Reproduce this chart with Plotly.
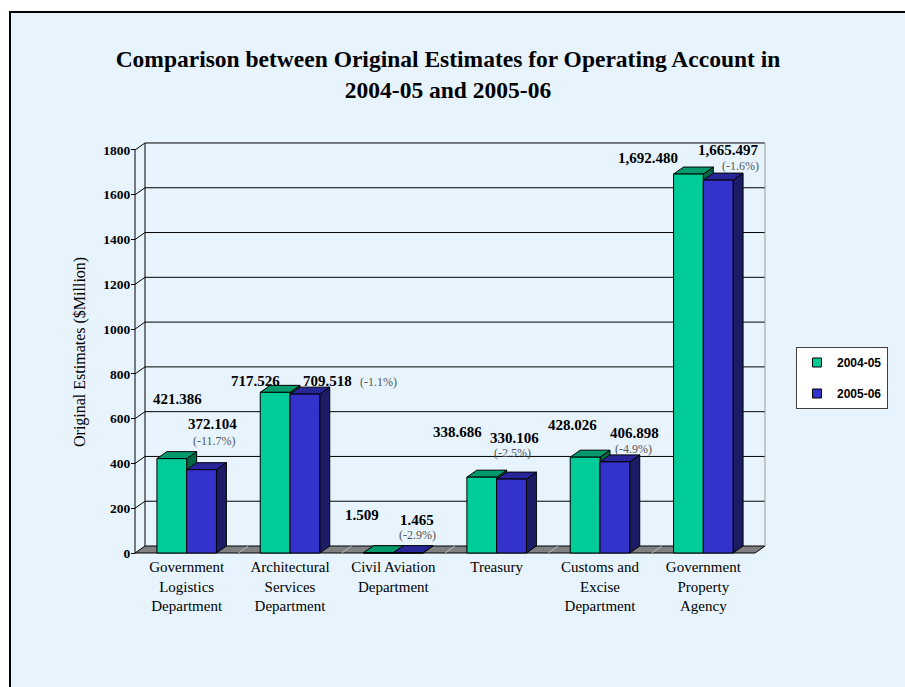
import plotly.graph_objects as go

# ---------------- data ----------------
categories = [
    "Government<br>Logistics<br>Department",
    "Architectural<br>Services<br>Department",
    "Civil Aviation<br>Department",
    "Treasury",
    "Customs and<br>Excise<br>Department",
    "Government<br>Property<br>Agency",
]
series_names = ["2004-05", "2005-06"]
est_2004 = [421.386, 717.526, 1.509, 338.686, 428.026, 1692.480]
est_2005 = [372.104, 709.518, 1.465, 330.106, 406.898, 1665.497]
y_ticks = [0, 200, 400, 600, 800, 1000, 1200, 1400, 1600, 1800]

# ---------------- label placement (pixel offsets) ----------------
lab04_dx = [-9, -35, -31, -39, -27, -55]
lab04_dy = [60, 11, 38, 45, 32, 16]
lab05_dx = [26, 37, 24, 18, 35, 25]
lab05_dy = [46, 13, 33, 41, 29, 30]
pct_dx = [28, 88, 24, 16, 34, 37]
pct_dy = [29, 12, 18, 26, 13, 14]

# ---------------- geometry / style ----------------
W, H = 905, 687
UX = 103.33          # px per category unit
UY = 0.2239          # px per $M
FRONT_LEFT_PX = 135  # pixel x of x=-0.5
ZERO_PX = 553        # pixel y of y=0
PL, PR, PT, PB = 132, 769, 140, 556
BW = 0.288
DX = 10 / UX
DY = 7 / UY
NCAT = len(categories)
YMAX = y_ticks[-1]

x_range = [-0.5 - (FRONT_LEFT_PX - PL) / UX, -0.5 + (PR - FRONT_LEFT_PX) / UX]
y_range = [-(PB - ZERO_PX) / UY, (ZERO_PX - PT) / UY]

BG = "#E8F4FD"
SERIF = "Liberation Serif"
colors = {
    "2004-05": {"front": "#00CC99", "top": "#00996B", "side": "#006644"},
    "2005-06": {"front": "#3333CC", "top": "#262699", "side": "#1C1C66"},
}


def poly_trace(polys, fill):
    xs, ys = [], []
    for p in polys:
        for (a, b) in p:
            xs.append(a)
            ys.append(b)
        xs.append(p[0][0])
        ys.append(p[0][1])
        xs.append(None)
        ys.append(None)
    return go.Scatter(x=xs, y=ys, mode="lines", fill="toself", fillcolor=fill,
                      line=dict(color="black", width=1), showlegend=False,
                      hoverinfo="skip")


fig = go.Figure()

for s_idx, (name, vals) in enumerate(zip(series_names, [est_2004, est_2005])):
    fronts, tops, sides = [], [], []
    for i, v in enumerate(vals):
        x0 = i - BW if s_idx == 0 else i
        x1 = x0 + BW
        fronts.append([(x0, 0), (x1, 0), (x1, v), (x0, v)])
        tops.append([(x0, v), (x1, v), (x1 + DX, v + DY), (x0 + DX, v + DY)])
        sides.append([(x1, 0), (x1 + DX, DY), (x1 + DX, v + DY), (x1, v)])
    c = colors[name]
    fig.add_trace(poly_trace(sides, c["side"]))
    fig.add_trace(poly_trace(tops, c["top"]))
    fig.add_trace(poly_trace(fronts, c["front"]))

# legend entries
for name in series_names:
    fig.add_trace(go.Scatter(x=[None], y=[None], mode="markers", name=name,
                             legendgroup=name,
                             marker=dict(symbol="square", size=9,
                                         color=colors[name]["front"],
                                         line=dict(color="black", width=1))))

# ---------------- shapes (walls, floor, grid) ----------------
shapes = []
shapes.append(dict(type="rect", xref="paper", yref="paper",
                   x0=(10 - PL) / (PR - PL), x1=(930 - PL) / (PR - PL),
                   y0=(PB - 720) / (PB - PT), y1=(PB - 12) / (PB - PT),
                   fillcolor=BG, line=dict(color="black", width=2), layer="below"))
xl, xr = -0.5, NCAT - 0.5
shapes.append(dict(type="path", xref="x", yref="y",
                   path=f"M {xl},0 L {xr},0 L {xr+DX},{DY} L {xl+DX},{DY} Z",
                   fillcolor="#808080", line=dict(color="black", width=1), layer="below"))
for k in range(1, NCAT):
    b = xl + k
    shapes.append(dict(type="line", xref="x", yref="y", x0=b, y0=0, x1=b + DX, y1=DY,
                       line=dict(color="#BDBDBD", width=1), layer="below"))
for v in y_ticks[1:]:
    shapes.append(dict(type="line", xref="x", yref="y", x0=xl + DX, y0=v + DY,
                       x1=xr + DX, y1=v + DY, line=dict(color="black", width=1), layer="below"))
for v in y_ticks[1:]:
    shapes.append(dict(type="line", xref="x", yref="y", x0=xl, y0=v,
                       x1=xl + DX, y1=v + DY, line=dict(color="black", width=1), layer="below"))
shapes.append(dict(type="line", xref="x", yref="y", x0=xl + DX, y0=DY, x1=xl + DX, y1=YMAX + DY,
                   line=dict(color="black", width=1), layer="below"))
shapes.append(dict(type="line", xref="x", yref="y", x0=xr + DX, y0=DY, x1=xr + DX, y1=YMAX + DY,
                   line=dict(color="#9A9A9A", width=1), layer="below"))
shapes.append(dict(type="line", xref="x", yref="y", x0=xl, y0=0, x1=xl, y1=YMAX,
                   line=dict(color="black", width=1), layer="below"))

# ---------------- annotations ----------------
ann = []
for i in range(NCAT):
    v4, v5 = est_2004[i], est_2005[i]
    pct = (v5 - v4) / v4 * 100
    ann.append(dict(x=i, y=v4, xref="x", yref="y", text=f"{v4:,.3f}", showarrow=False,
                    xshift=lab04_dx[i], yshift=lab04_dy[i],
                    font=dict(family=SERIF, size=15, color="black", weight="bold")))
    ann.append(dict(x=i, y=v5, xref="x", yref="y", text=f"{v5:,.3f}", showarrow=False,
                    xshift=lab05_dx[i], yshift=lab05_dy[i],
                    font=dict(family=SERIF, size=15, color="black", weight="bold")))
    ann.append(dict(x=i, y=v5, xref="x", yref="y", text=f"({pct:.1f}%)", showarrow=False,
                    xshift=pct_dx[i], yshift=pct_dy[i],
                    font=dict(family=SERIF, size=12, color="#555555")))

ann.append(dict(x=(80 - PL) / (PR - PL), y=(PB - 352) / (PB - PT), xref="paper", yref="paper",
                text="Original Estimates ($Million)", textangle=-90, showarrow=False,
                xanchor="center", yanchor="middle",
                font=dict(family=SERIF, size=16, color="black")))

fig.update_layout(
    width=W, height=H,
    margin=dict(l=PL, r=W - PR, t=PT, b=H - PB, pad=0),
    paper_bgcolor="white",
    plot_bgcolor="rgba(0,0,0,0)",
    title=dict(text="Comparison between Original Estimates for Operating Account in<br>2004-05 and 2005-06",
               x=448 / W, xanchor="center", xref="container",
               y=1 - 67 / H, yanchor="top", yref="container",
               font=dict(family=SERIF, size=23.5, color="black", weight="bold")),
    xaxis=dict(range=x_range, tickmode="array", tickvals=list(range(NCAT)), ticktext=categories,
               showgrid=False, zeroline=False, showline=False, ticks="",
               tickfont=dict(family=SERIF, size=15, color="black"), fixedrange=True),
    yaxis=dict(range=y_range, tickmode="array", tickvals=y_ticks,
               anchor="free", position=(FRONT_LEFT_PX - PL) / (PR - PL),
               showgrid=False, zeroline=False, showline=False,
               ticks="outside", ticklen=4, tickcolor="black", tickwidth=1,
               ticklabelstandoff=-2,
               tickfont=dict(family=SERIF, size=13.5, color="black", weight="bold"), fixedrange=True),
    legend=dict(x=(796 - PL) / (PR - PL), y=(PB - 347) / (PB - PT), xanchor="left", yanchor="top",
                bgcolor="white", bordercolor="#404040", borderwidth=1,
                font=dict(family="Liberation Sans", size=12, color="black", weight="bold"),
                traceorder="grouped", tracegroupgap=12, itemwidth=30),
    shapes=shapes,
    annotations=ann,
    showlegend=True,
)

fig.write_html("out.html")
